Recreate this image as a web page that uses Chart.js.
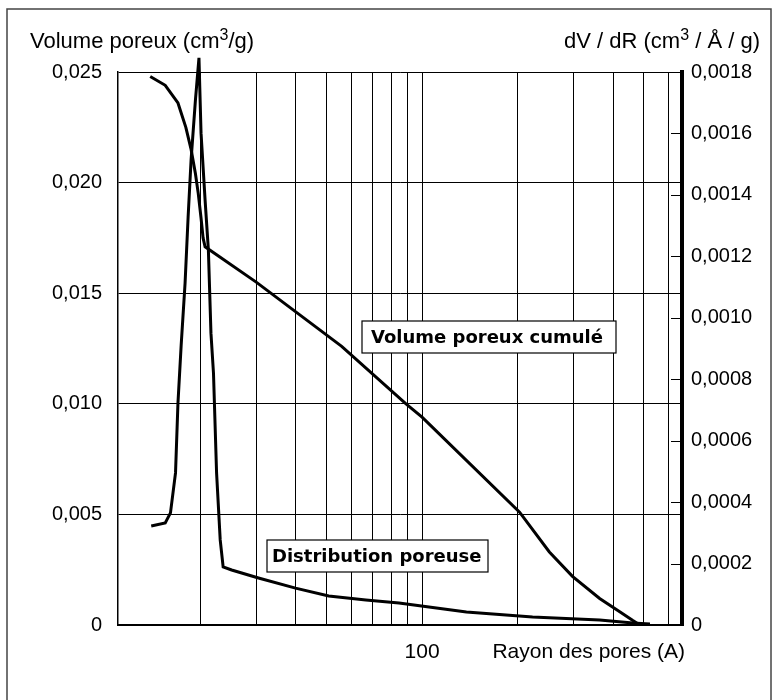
<!DOCTYPE html>
<html>
<head>
<meta charset="utf-8">
<script src="https://cdn.jsdelivr.net/npm/chart.js@4"></script>
<style>
  html, body { margin: 0; padding: 0; background: #fff; }
  #wrap { width: 780px; height: 700px; }
</style>
</head>
<body>
<div id="wrap"><canvas id="chart" width="780" height="700"></canvas></div>
<script>
// Volume poreux cumulé : rayon (Å) -> volume (cm3/g)
const cumRadius = [13.9, 15.5, 17.0, 18.0, 18.7, 19.3, 19.7, 20.1, 20.4, 20.7, 30.0, 55.8, 89.0, 100, 203, 252, 298, 363, 420, 462, 486];
const cumVolume = [0.0248, 0.0244, 0.0236, 0.0225, 0.0215, 0.0204, 0.0195, 0.0184, 0.0175, 0.0171, 0.0155, 0.0126, 0.0100, 0.0094, 0.0051, 0.0033, 0.0022, 0.0012, 0.0006, 0.0002, 0.0000];

// Distribution poreuse : rayon (Å) -> dV/dR (cm3/Å/g)
const distRadius = [14.0, 15.5, 16.1, 16.7, 17.0, 17.4, 17.9, 18.3, 18.7, 19.3, 19.8, 20.1, 20.7, 21.2, 21.6, 22.0, 22.5, 23.1, 23.6, 25.1, 30.5, 39.9, 50.8, 66.5, 84.6, 138, 223, 363, 462, 523];
const distValue = [0.000322, 0.000332, 0.000365, 0.000495, 0.000723, 0.000911, 0.001113, 0.001328, 0.001514, 0.001709, 0.001846, 0.001601, 0.001383, 0.001221, 0.000950, 0.000820, 0.000495, 0.000277, 0.000189, 0.000179, 0.000153, 0.000120, 0.0000944, 0.0000814, 0.0000716, 0.0000423, 0.000026, 0.0000163, 0.0000065, 0.000003];

// vertical grid (log axis) and the only labelled radius
const xGridValues = [20, 30, 40, 50, 60, 70, 80, 90, 100, 200, 300, 400, 500, 600];
const xLabelValues = [100];

const FONT = "'Liberation Sans', Arial, sans-serif";
const LABEL_FONT = "'DejaVu Sans', sans-serif";

Chart.defaults.font.family = FONT;
Chart.defaults.color = '#000';

function comma(v, digits) {
  if (Math.abs(v) < 1e-12) return '0';
  return v.toFixed(digits).replace('.', ',');
}

// text with a raised "3"
function drawSup(ctx, before, sup, after, x, y, align) {
  const big = '22px ' + FONT, small = '16px ' + FONT;
  ctx.font = big;  const w1 = ctx.measureText(before).width;
  const w3 = ctx.measureText(after).width;
  ctx.font = small; const w2 = ctx.measureText(sup).width;
  let left = align === 'right' ? x - (w1 + w2 + w3) : x;
  ctx.textAlign = 'left';
  ctx.textBaseline = 'alphabetic';
  ctx.font = big;   ctx.fillText(before, left, y);
  ctx.font = small; ctx.fillText(sup, left + w1, y - 8);
  ctx.font = big;   ctx.fillText(after, left + w1 + w2, y);
}

function labelBox(ctx, text, x0, y0, x1, y1, inset) {
  ctx.fillStyle = '#fff';
  ctx.fillRect(x0, y0, x1 - x0, y1 - y0);
  ctx.strokeStyle = '#000';
  ctx.lineWidth = 1.2;
  ctx.strokeRect(x0, y0, x1 - x0, y1 - y0);
  ctx.fillStyle = '#000';
  ctx.font = 'bold 18px ' + LABEL_FONT;
  ctx.textAlign = 'left';
  ctx.textBaseline = 'middle';
  ctx.fillText(text, x0 + inset, (y0 + y1) / 2 + 1);
}

const decor = {
  id: 'decor',
  afterDatasetsDraw(chart) {
    const ctx = chart.ctx;
    ctx.save();
    labelBox(ctx, 'Volume poreux cumulé', 362, 321, 616, 353, 9);
    labelBox(ctx, 'Distribution poreuse', 267, 540, 488, 572, 5);
    ctx.restore();
  },
  afterDraw(chart) {
    const ctx = chart.ctx;
    const a = chart.chartArea;
    const y1 = chart.scales.y1;
    ctx.save();
    // outer frame
    ctx.strokeStyle = '#444';
    ctx.lineWidth = 1.5;
    ctx.strokeRect(7, 9, 764, 720);
    // inside ticks on the right axis
    ctx.strokeStyle = '#000';
    ctx.lineWidth = 1;
    y1.ticks.forEach(t => {
      const py = Math.round(y1.getPixelForValue(t.value)) + 0.5;
      ctx.beginPath();
      ctx.moveTo(a.right - 11, py);
      ctx.lineTo(a.right, py);
      ctx.stroke();
    });
    // titles
    ctx.fillStyle = '#000';
    drawSup(ctx, 'Volume poreux (cm', '3', '/g)', 30, 48, 'left');
    drawSup(ctx, 'dV / dR (cm', '3', ' / Å / g)', 760, 48, 'right');
    ctx.font = '21px ' + FONT;
    ctx.textAlign = 'right';
    ctx.textBaseline = 'alphabetic';
    ctx.fillText('Rayon des pores (A)', a.right + 3, 658);
    ctx.restore();
  }
};

new Chart(document.getElementById('chart'), {
  type: 'line',
  data: {
    datasets: [
      {
        label: 'Volume poreux cumulé',
        data: cumRadius.map((r, i) => ({ x: r, y: cumVolume[i] })),
        yAxisID: 'y',
        borderColor: '#000',
        borderWidth: 3,
        pointRadius: 0,
        tension: 0,
      },
      {
        label: 'Distribution poreuse',
        data: distRadius.map((r, i) => ({ x: r, y: distValue[i] })),
        yAxisID: 'y1',
        borderColor: '#000',
        borderWidth: 3,
        pointRadius: 0,
        tension: 0,
        clip: false,
      },
    ],
  },
  options: {
    responsive: false,
    animation: false,
    layout: { padding: { top: 72, left: 0, right: 0, bottom: 0 } },
    plugins: { legend: { display: false }, tooltip: { enabled: false } },
    scales: {
      x: {
        type: 'logarithmic',
        min: 11,
        max: 660,
        afterBuildTicks: s => { s.ticks = xGridValues.map(v => ({ value: v })); },
        afterFit: s => { s.height = 75; },
        grid: { color: '#000', lineWidth: 1, drawTicks: false },
        border: { color: '#000', width: 2 },
        ticks: {
          autoSkip: false,
          maxRotation: 0,
          padding: 15,
          font: { size: 21 },
          callback: v => (xLabelValues.includes(v) ? String(v) : ''),
        },
      },
      y: {
        position: 'left',
        min: 0,
        max: 0.025,
        afterFit: s => { s.width = 118; },
        grid: { color: '#000', lineWidth: 1, drawTicks: false },
        border: { color: '#000', width: 1.5 },
        ticks: { stepSize: 0.005, padding: 16, font: { size: 20 }, callback: v => comma(v, 3) },
      },
      y1: {
        position: 'right',
        min: 0,
        max: 0.0018,
        afterFit: s => { s.width = 98; },
        grid: { drawOnChartArea: false, drawTicks: false },
        border: { color: '#000', width: 4 },
        ticks: { stepSize: 0.0002, padding: 9, font: { size: 20 }, callback: v => comma(v, 4) },
      },
    },
  },
  plugins: [decor],
});
</script>
</body>
</html>
